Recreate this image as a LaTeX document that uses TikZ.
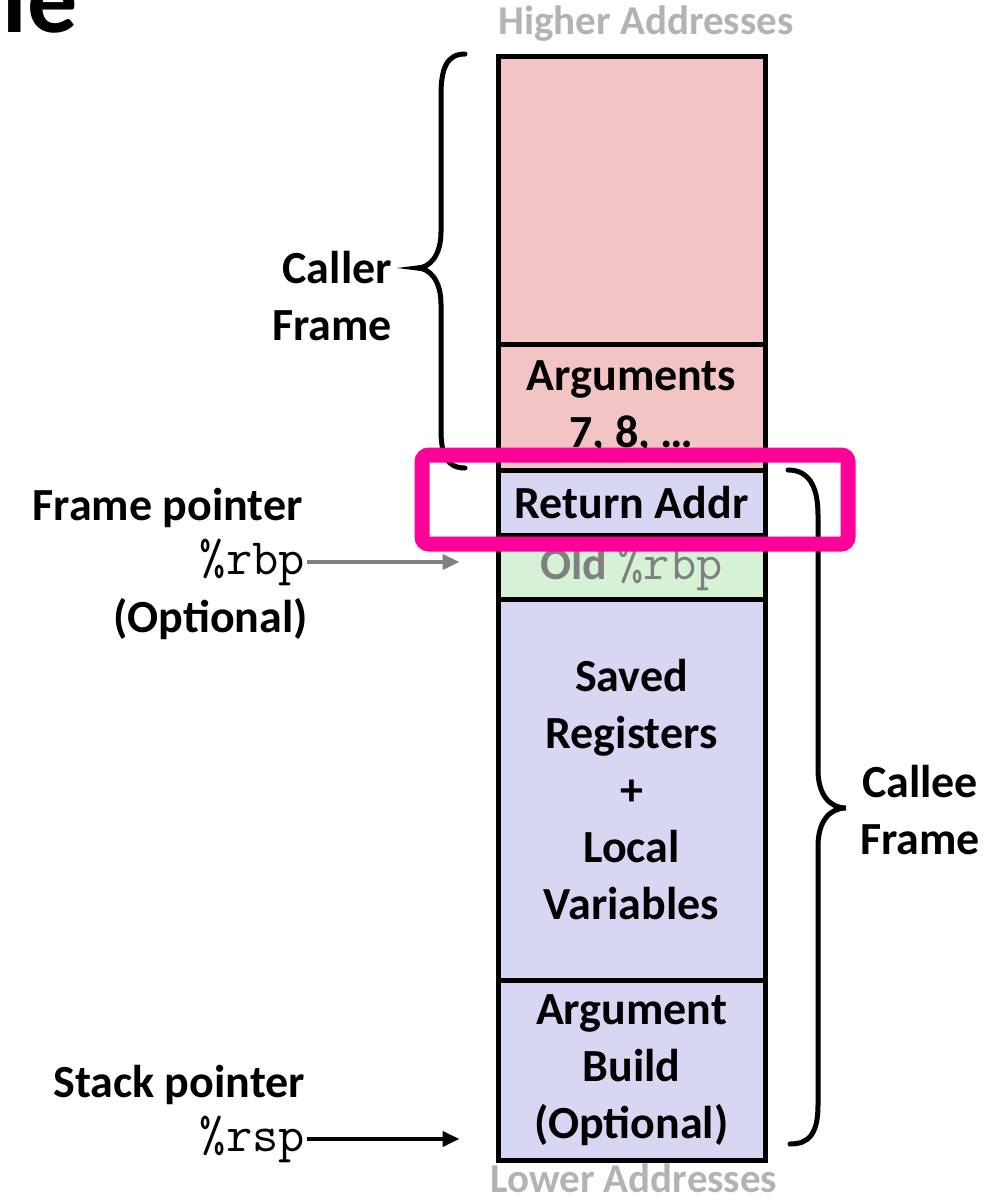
\documentclass[tikz,border=0pt]{standalone}
\usepackage{fontspec}
\setmainfont{Carlito}
\usetikzlibrary{arrows.meta}

\definecolor{callerred}{HTML}{F2C4C4}
\definecolor{calleeblue}{HTML}{D7D7F3}
\definecolor{savedgreen}{HTML}{D6F2D6}
\definecolor{hilite}{HTML}{FF0099}
\definecolor{addrgray}{HTML}{B3B3B3}
\definecolor{ptrgray}{HTML}{808080}

\newcommand{\regfont}{\fontspec{Latin Modern Mono}\fontsize{51}{57}\selectfont}

\begin{document}
\begin{tikzpicture}[x=1pt,y=-1pt,
  cell/.style={draw=black, line width=5pt, minimum width=267pt, inner sep=0pt,
               anchor=north, align=center, font=\bfseries\fontsize{46}{57}\selectfont},
  lbl/.style={font=\bfseries\fontsize{46}{57}\selectfont, inner sep=2pt},
  reg/.style={font=\regfont, inner sep=2pt},
  addr/.style={font=\bfseries\fontsize{41}{48}\selectfont, text=addrgray, inner sep=0pt, anchor=base},
  brace/.style={draw=black, line width=5pt, line cap=round},
  ptr/.style={line width=4pt, -{Triangle[length=17pt,width=15pt]}},
  ]
\useasboundingbox (0,0) rectangle (998,1204);

% title fragment at the top edge
\node[font=\bfseries\fontsize{100}{110}\selectfont, anchor=base east, inner sep=0pt] (title) at (78,33) {le};

% stack column, higher addresses on top
\node[cell, fill=callerred, minimum height=288pt] (upper) at (631.5,54) {};
\node[cell, fill=callerred, minimum height=126pt] (args) at (631.5,342) {Arguments\\7, 8, …};
\node[cell, fill=calleeblue, minimum height=65pt] (ret) at (631.5,468) {Return Addr};
\node[cell, fill=savedgreen, minimum height=64pt] (oldrbp) at (631.5,533)
  {\textcolor{ptrgray}{Old {\mdseries\regfont\%rbp}}};
\node[cell, fill=calleeblue, minimum height=381pt] (saved) at (631.5,597)
  {Saved\\Registers\\+\\Local\\Variables};
\node[cell, fill=calleeblue, minimum height=180pt] (argb) at (631.5,978)
  {Argument\\Build\\(Optional)};

\node[addr] (higher) at (646,35) {Higher Addresses};
\node[addr] (lower) at (634,1192) {Lower Addresses};

% frame braces
\draw[brace] (465,54) .. controls (447,54) and (441,68) .. (441,95) -- (441,232)
  .. controls (441,255) and (430,268) .. (417,268)
  .. controls (430,268) and (441,281) .. (441,304) -- (441,430)
  .. controls (441,455) and (447,468) .. (465,468);
\draw[brace] (788,470) .. controls (808,470) and (818,485) .. (818,515) -- (818,770)
  .. controls (818,795) and (830,808) .. (846,808)
  .. controls (830,808) and (818,821) .. (818,846) -- (818,1105)
  .. controls (818,1135) and (808,1144) .. (790,1144);

\node[lbl, anchor=east, align=right] (caller) at (394,296) {Caller\\Frame};
\node[lbl, anchor=west, align=center] (callee) at (858,810) {Callee\\Frame};

% frame pointer
\node[lbl, anchor=base east] (fp) at (305,520) {Frame pointer};
\node[reg, anchor=base east] (rbp) at (307,574) {\%rbp};
\node[lbl, anchor=base east] (fpopt) at (310,632) {(Optional)};
\draw[ptr, draw=ptrgray, fill=ptrgray, shorten >=36pt] (rbp.east) -- (rbp.east -| oldrbp.west);

% stack pointer
\node[lbl, anchor=base east] (sp) at (307,1097) {Stack pointer};
\node[reg, anchor=base east] (rsp) at (307,1151) {\%rsp};
\draw[ptr, draw=black, fill=black, shorten >=36pt] (rsp.east) -- (rsp.east -| argb.west);

% highlight around the return address
\draw[hilite, line width=15pt, rounded corners=7pt] (422,455) rectangle (848,544);
\end{tikzpicture}
\end{document}
